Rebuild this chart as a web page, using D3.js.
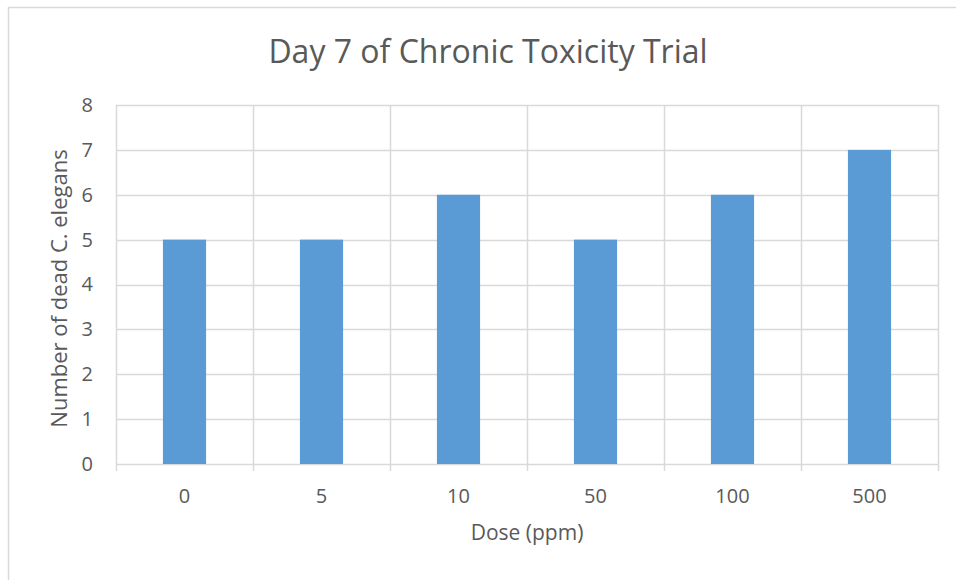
<!DOCTYPE html>
<html>
<head>
<meta charset="utf-8">
<script src="https://cdn.jsdelivr.net/npm/d3@7"></script>
<style>
  body { margin: 0; background: #fff; }
  text { font-family: "Open Sans", sans-serif; fill: #595959; }
</style>
</head>
<body>
<svg id="chart" width="956" height="580"></svg>
<script>
// data
var doses = ["0", "5", "10", "50", "100", "500"];
var deadCount = [5, 5, 6, 5, 6, 7];
var yTicks = [0, 1, 2, 3, 4, 5, 6, 7, 8];

var svg = d3.select("#chart");
var width = 956, height = 580;
var margin = { top: 105, right: 18, bottom: 116, left: 116 };
var innerW = width - margin.left - margin.right;
var innerH = height - margin.top - margin.bottom;

// outer border of the chart area
svg.append("rect")
    .attr("x", 8.5).attr("y", 7.5)
    .attr("width", 960).attr("height", 600)
    .attr("fill", "none")
    .attr("stroke", "#d9d9d9")
    .attr("stroke-width", 1.5);

var g = svg.append("g")
    .attr("transform", "translate(" + margin.left + "," + margin.top + ")");

var x = d3.scaleBand().domain(doses).range([0, innerW]).padding(0);
var y = d3.scaleLinear().domain([0, 8]).range([innerH, 0]);

// horizontal gridlines
g.append("g")
  .selectAll("line")
  .data(yTicks)
  .enter().append("line")
    .attr("x1", 0).attr("x2", innerW)
    .attr("y1", function(d) { return Math.round(y(d)) + 0.5; })
    .attr("y2", function(d) { return Math.round(y(d)) + 0.5; })
    .attr("stroke", "#d9d9d9")
    .attr("stroke-width", 1.5);

// vertical gridlines at category boundaries (extend below axis as ticks)
var bounds = doses.map(function(d) { return x(d); }).concat([innerW]);
g.append("g")
  .selectAll("line")
  .data(bounds)
  .enter().append("line")
    .attr("x1", function(d) { return Math.round(d) + 0.5; })
    .attr("x2", function(d) { return Math.round(d) + 0.5; })
    .attr("y1", 0).attr("y2", innerH + 7)
    .attr("stroke", "#d9d9d9")
    .attr("stroke-width", 1.5);

// bars
var barW = x.bandwidth() * 0.315;
g.append("g")
  .selectAll("rect")
  .data(deadCount)
  .enter().append("rect")
    .attr("x", function(d, i) { return x(doses[i]) + x.bandwidth() / 2 - barW / 2; })
    .attr("y", function(d) { return y(d); })
    .attr("width", barW)
    .attr("height", function(d) { return y(0) - y(d); })
    .attr("fill", "#5b9bd5");

// y tick labels
var yAxis = d3.axisLeft(y).tickValues(yTicks).tickSize(0).tickPadding(23);
var ya = g.append("g").call(yAxis);
ya.select(".domain").remove();
ya.selectAll("text")
    .style("font-size", "20px")
    .attr("fill", "#595959");

// x tick labels
var xAxis = d3.axisBottom(x).tickSize(0).tickPadding(25);
var xa = g.append("g").attr("transform", "translate(0," + innerH + ")").call(xAxis);
xa.select(".domain").remove();
xa.selectAll("text")
    .style("font-size", "20px")
    .attr("fill", "#595959");

// titles
svg.append("text")
    .attr("x", 488).attr("y", 63)
    .attr("text-anchor", "middle")
    .style("font-size", "32px")
    .text("Day 7 of Chronic Toxicity Trial");

svg.append("text")
    .attr("x", margin.left + innerW / 2).attr("y", 540)
    .attr("text-anchor", "middle")
    .style("font-size", "21px")
    .text("Dose (ppm)");

svg.append("text")
    .attr("transform", "translate(67," + (margin.top + innerH / 2 + 4) + ") rotate(-90)")
    .attr("text-anchor", "middle")
    .style("font-size", "22px")
    .text("Number of dead C. elegans");
</script>
</body>
</html>
